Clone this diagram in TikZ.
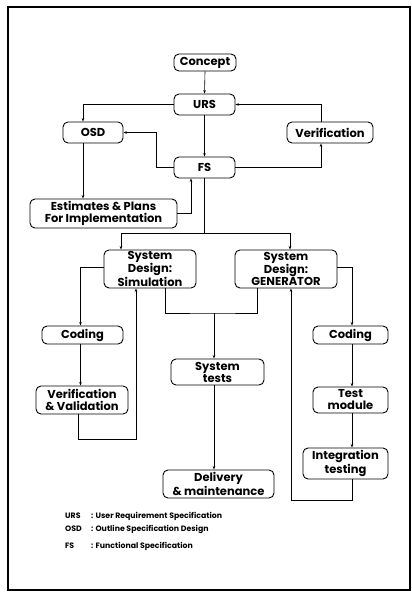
\documentclass[tikz,border=0pt]{standalone}
\usepackage{fontspec}
\setmainfont{Poppins}
\usetikzlibrary{arrows.meta,calc}
\begin{document}
\begin{tikzpicture}[x=1pt,y=-1pt,
  box/.style={draw,line width=0.9pt,rounded corners=5pt,align=center,inner sep=1pt,
    font=\fontsize{11.5}{12}\selectfont\bfseries},
  arr/.style={line width=0.6pt,-{Stealth[length=3.5pt,width=2.6pt]}},
  ln/.style={line width=0.6pt},
  legend/.style={anchor=west,font=\fontsize{7.8}{8}\selectfont\bfseries,inner sep=0pt}]
\useasboundingbox (0,0) rectangle (412,592);
\draw[line width=1.2pt] (8,7) rectangle (410,590);
% nodes
\node[box,minimum width=62pt,minimum height=17pt] (Concept) at (205,62.5) {Concept};
\node[box,minimum width=61pt,minimum height=21pt] (URS) at (204.5,104.5) {URS};
\node[box,minimum width=60pt,minimum height=21pt] (OSD) at (93,132.5) {OSD};
\node[box,minimum width=86pt,minimum height=21pt] (Ver) at (330,132.5) {Verification};
\node[box,minimum width=61pt,minimum height=21pt] (FS) at (204.5,167.5) {FS};
\node[box,minimum width=147pt,minimum height=29pt] (Est) at (103.5,213.5) {Estimates \& Plans\\For Implementation};
\node[box,minimum width=92pt,minimum height=38pt] (Sim) at (150,269) {System\\Design:\\Simulation};
\node[box,minimum width=102pt,minimum height=38pt] (Gen) at (286,269) {System\\Design:\\GENERATOR};
\node[box,minimum width=81pt,minimum height=18pt] (CodL) at (82.5,335) {Coding};
\node[box,minimum width=75pt,minimum height=18pt] (CodR) at (350.5,335) {Coding};
\node[box,minimum width=93pt,minimum height=26pt] (Tests) at (217.5,372) {System\\tests};
\node[box,minimum width=92pt,minimum height=28pt] (VV) at (82,400) {Verification\\\& Validation};
\node[box,minimum width=75pt,minimum height=26pt] (TM) at (350.5,400) {Test\\module};
\node[box,minimum width=85pt,minimum height=31pt] (IT) at (345.5,463.5) {Integration\\testing};
\node[box,minimum width=111pt,minimum height=28pt] (Del) at (218.5,484) {Delivery\\\& maintenance};
% legend
\node[legend] (l1) at (65,516) {URS};
\node[legend] (l1b) at (91,516) {: User Requirement Specification};
\node[legend] (l2) at (65,529) {OSD};
\node[legend] (l2b) at (91,529) {: Outline Specification Design};
\node[legend] (l3) at (65,546) {FS};
\node[legend] (l3b) at (91,546) {: Functional Specification};
% connectors
\draw[arr] (Concept.south) -- (URS.north);
\draw[arr] (URS.west) -| ([xshift=-10pt]OSD.north);
\draw[arr] (URS.south) -- (FS.north);
\draw[arr] (FS.west) -- ++(-17,0) |- (OSD.east);
\draw[arr] (FS.east) -| ([xshift=-9pt]Ver.south);
\draw[arr] ([xshift=-9pt]Ver.north) |- (URS.east);
\draw[arr] ([xshift=-10pt]OSD.south) -- ([xshift=-10pt]OSD.south |- Est.north);
\draw[arr] (Est.east) -| ([xshift=-13.5pt]FS.south);
\coordinate (br) at (204.5,233);
\draw[ln] (FS.south) -- (br);
\draw[arr] (br) -| ([xshift=-29pt]Sim.north);
\draw[arr] (br) -| ([xshift=4pt]Gen.north);
\draw[arr] ([yshift=2pt]Sim.west) -| ([xshift=-2pt]CodL.north);
\draw[arr] ([xshift=-2pt]CodL.south) -- ([xshift=-2pt]CodL.south |- VV.north);
\draw[arr] ([xshift=-4pt]VV.south) -- ++(0,25) -| ([xshift=-14pt]Sim.south);
\coordinate (m) at (214,313);
\draw[ln] ([xshift=15pt]Sim.south) |- (m) -| ([xshift=-29pt]Gen.south);
\draw[arr] (m) -- (m |- Tests.north);
\draw[arr] (Tests.south -| m) -- (Del.north -| m);
\draw[arr] ([yshift=2pt]Gen.east) -| ([xshift=1.5pt]CodR.north);
\draw[arr] ([xshift=1.5pt]CodR.south) -- ([xshift=1.5pt]TM.north);
\draw[arr] ([xshift=1.5pt]TM.south) -- ([xshift=1.5pt]TM.south |- IT.north);
\draw[arr] ([xshift=1.5pt]TM.south |- IT.south) -- ++(0,21) -| ([xshift=5pt]Gen.south);
\end{tikzpicture}
\end{document}
